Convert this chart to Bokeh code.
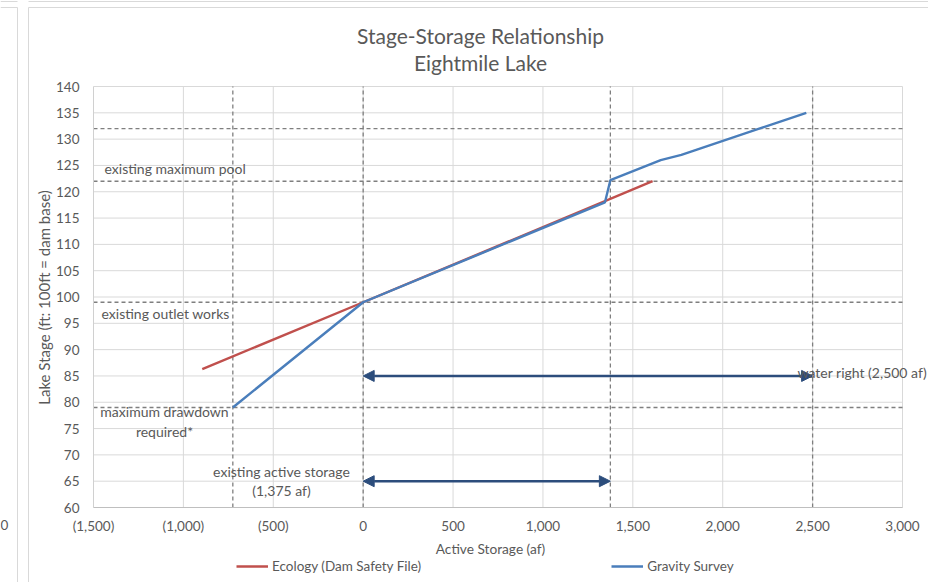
import math
from bokeh.plotting import figure
from bokeh.models import (Range1d, FixedTicker, NumeralTickFormatter, Arrow,
                          NormalHead, Label, Legend, LegendItem, LinearAxis)
from bokeh.embed import file_html
from bokeh.resources import INLINE

# ---------------- data ----------------
ecology_storage = [-895, 0, 1610]
ecology_stage = [86.3, 99, 122]

gravity_storage = [-725, 0, 1345, 1375, 1655, 1770, 2465]
gravity_stage = [79, 99, 118, 122.2, 126, 127, 135]

ref_stage_levels = [132, 122, 99, 79]
ref_storage_levels = [-725, 0, 1375, 2500]

water_right_storage = [0, 2500]
water_right_stage = 85
active_storage_range = [0, 1375]
active_storage_stage = 65

x_ticks = [-1500, -1000, -500, 0, 500, 1000, 1500, 2000, 2500, 3000]
y_ticks = [60, 65, 70, 75, 80, 85, 90, 95, 100, 105, 110, 115, 120, 125, 130, 135, 140]

X_MIN, X_MAX = -1500, 3000
Y_MIN, Y_MAX = 60, 140

FONT = "Lato"
TXT = "#595959"
GRID = "#D9D9D9"
RED = "#C0504D"
BLUE = "#4A7EBB"
ARROW = "#2C4D7C"
DASH = "#7F7F7F"

# plot-area geometry in canvas pixels
LEFT, RIGHT, TOP, BOTTOM = 93, 902, 86, 507
W, H = 928, 582
px_x = (RIGHT - LEFT) / (X_MAX - X_MIN)
px_y = (BOTTOM - TOP) / (Y_MAX - Y_MIN)

def xd(px):
    return X_MIN + (px - LEFT) / px_x

def yd(py):
    return Y_MAX - (py - TOP) / px_y

p = figure(width=W, height=H, output_backend="svg", toolbar_location=None,
           x_range=Range1d(xd(0), xd(W)), y_range=Range1d(yd(H), yd(0)),
           x_axis_location=None, y_axis_location=None,
           min_border=0)
p.outline_line_color = None
p.background_fill_color = "white"
p.border_fill_color = "white"
p.xgrid.visible = False
p.ygrid.visible = False

# chart-box borders (this chart and its neighbours on the sheet)
bx0 = [xd(28), xd(28), xd(0), xd(17), xd(0), xd(28)]
bx1 = [xd(928), xd(28), xd(17), xd(17), xd(17), xd(928)]
by0 = [yd(7), yd(7), yd(7), yd(7), yd(1), yd(1)]
by1 = [yd(7), yd(582), yd(7), yd(582), yd(1), yd(1)]
p.segment(x0=bx0, x1=bx1, y0=by0, y1=by1, line_color="#D9D9D9", line_width=1)

# gridlines
p.segment(x0=[X_MIN] * len(y_ticks), x1=[X_MAX] * len(y_ticks), y0=y_ticks, y1=y_ticks,
          line_color=GRID, line_width=1)
p.segment(x0=x_ticks[1:], x1=x_ticks[1:], y0=[Y_MIN] * (len(x_ticks) - 1),
          y1=[Y_MAX] * (len(x_ticks) - 1), line_color=GRID, line_width=1)

# axes fixed at the plot-area edges
xax = LinearAxis(fixed_location=Y_MIN, ticker=FixedTicker(ticks=x_ticks),
                 formatter=NumeralTickFormatter(format="(0,0)"), bounds=(X_MIN, X_MAX))
yax = LinearAxis(fixed_location=X_MIN, ticker=FixedTicker(ticks=y_ticks),
                 bounds=(Y_MIN, Y_MAX))
for ax in (xax, yax):
    ax.major_tick_in = 0
    ax.major_tick_out = 0
    ax.minor_tick_in = 0
    ax.minor_tick_out = 0
    ax.axis_line_color = "#BFBFBF"
    ax.major_label_text_font = FONT
    ax.major_label_text_font_size = "13.5px"
    ax.major_label_text_color = TXT
xax.major_label_standoff = 10
yax.major_label_standoff = 14
yax.axis_line_color = "#D0D0D0"
p.add_layout(xax, "below")
p.add_layout(yax, "left")

# reference dashed lines
p.segment(x0=[X_MIN] * len(ref_stage_levels), x1=[xd(RIGHT + 3)] * len(ref_stage_levels),
          y0=ref_stage_levels, y1=ref_stage_levels,
          line_color=DASH, line_dash="4 3", line_width=1.3)
p.segment(x0=ref_storage_levels, x1=ref_storage_levels,
          y0=[Y_MIN] * len(ref_storage_levels), y1=[Y_MAX] * len(ref_storage_levels),
          line_color=DASH, line_dash="4 3", line_width=1.3)

# series
r_eco = p.line(ecology_storage, ecology_stage, line_color=RED, line_width=2.4)
r_grav = p.line(gravity_storage, gravity_stage, line_color=BLUE, line_width=2.4)

# arrows
def dbl_arrow(x0, x1, y):
    p.add_layout(Arrow(x_start=x0, x_end=x1, y_start=y, y_end=y,
                       line_color=ARROW, line_width=2.5,
                       start=NormalHead(size=11, fill_color=ARROW, line_color=ARROW),
                       end=NormalHead(size=11, fill_color=ARROW, line_color=ARROW)))

dbl_arrow(water_right_storage[0], water_right_storage[1], water_right_stage)
dbl_arrow(active_storage_range[0], active_storage_range[1], active_storage_stage)

def lab(px, py, text, align="left", size="14px", angle=0):
    p.add_layout(Label(x=xd(px), y=yd(py), text=text, text_align=align,
                       text_baseline="middle", angle=angle,
                       text_font=FONT, text_font_size=size, text_color=TXT))

lab(104, 168, "existing maximum pool")
lab(101, 313, "existing outlet works")
lab(164, 411, "maximum drawdown", "center")
lab(164, 431, "required*", "center")
lab(281, 471, "existing active storage", "center")
lab(281, 490, "(1,375 af)", "center")
lab(797, 372, "water right (2,500 af)")

# neighbouring chart's cut-off tick label at the sheet's left edge
lab(4, 524, "0", "center", "13.5px")

# title and axis titles
lab(480, 35, "Stage-Storage Relationship", "center", "21px")
lab(480, 62, "Eightmile Lake", "center", "21px")
lab(490, 548, "Active Storage (af)", "center", "13.7px")
lab(43, 297, "Lake Stage (ft: 100ft = dam base)", "center", "15px", math.pi / 2)

legend = Legend(items=[LegendItem(label="Ecology (Dam Safety File)", renderers=[r_eco]),
                       LegendItem(label="Gravity Survey", renderers=[r_grav])],
                location=(236, 8), orientation="horizontal", spacing=190,
                padding=0, margin=0, border_line_color=None, background_fill_alpha=0,
                glyph_width=32, glyph_height=14, label_standoff=4,
                label_text_font=FONT, label_text_font_size="13.5px", label_text_color=TXT)
p.add_layout(legend)

open("out.html", "w").write(file_html(p, INLINE))
